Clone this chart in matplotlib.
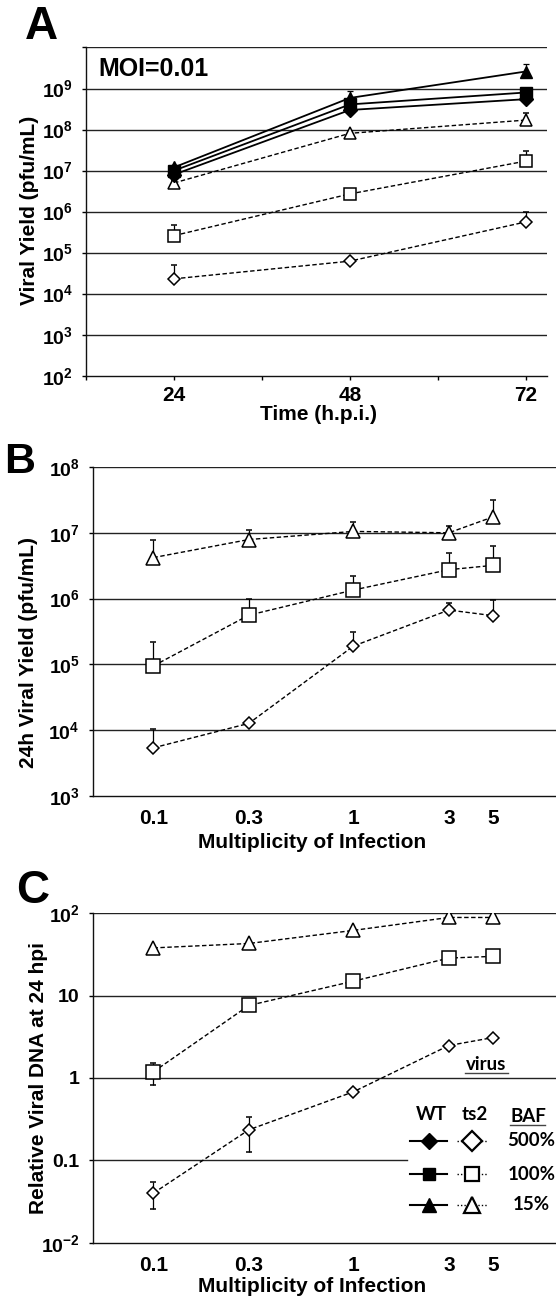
import numpy as np
import matplotlib
matplotlib.use("Agg")
import matplotlib.pyplot as plt
from matplotlib.lines import Line2D

plt.rcParams['font.family'] = ['Liberation Sans', 'DejaVu Sans']
plt.rcParams['font.weight'] = 'bold'
plt.rcParams['mathtext.fontset'] = 'custom'
plt.rcParams['mathtext.rm'] = 'Liberation Sans:bold'
plt.rcParams['mathtext.it'] = 'Liberation Sans:bold'
plt.rcParams['mathtext.bf'] = 'Liberation Sans:bold'
plt.rcParams['mathtext.default'] = 'rm'

# ---------------- Data ----------------
# Panel A: viral yield vs time, MOI=0.01
time_hpi = [24, 48, 72]
A_wt_500 = [8.0e6, 3.0e8, 5.5e8]
A_wt_100 = [1.0e7, 4.1e8, 8.0e8]
A_wt_15 = [1.2e7, 5.9e8, 2.6e9]
A_wt_15_top = [1.4e7, 8.7e8, 4.0e9]
A_ts2_500 = [2.3e4, 6.2e4, 5.6e5]
A_ts2_500_top = [4.9e4, 6.6e4, 1.0e6]
A_ts2_100 = [2.6e5, 2.7e6, 1.7e7]
A_ts2_100_top = [4.8e5, 3.4e6, 3.0e7]
A_ts2_15 = [5.0e6, 8.1e7, 1.7e8]
A_ts2_15_top = [5.5e6, 9.0e7, 2.5e8]

# Panels B and C: MOI series
moi = [0.1, 0.3, 1, 3, 5]
moi_labels = ['0.1', '0.3', '1', '3', '5']

B_ts2_15 = [4.2e6, 7.9e6, 1.05e7, 1.0e7, 1.75e7]
B_ts2_15_top = [7.7e6, 1.1e7, 1.45e7, 1.27e7, 3.2e7]
B_ts2_100 = [9.5e4, 5.6e5, 1.35e6, 2.75e6, 3.2e6]
B_ts2_100_top = [2.2e5, 1.0e6, 2.2e6, 5.0e6, 6.3e6]
B_ts2_500 = [5.4e3, 1.27e4, 1.9e5, 6.7e5, 5.5e5]
B_ts2_500_top = [1.03e4, 1.3e4, 3.1e5, 8.7e5, 9.6e5]

C_ts2_15 = [38, 43, 62, 89, 89]
C_ts2_100 = [1.19, 7.6, 15, 28.6, 30]
C_ts2_100_lo = [0.82, 7.6, 15, 28.6, 30]
C_ts2_100_hi = [1.5, 7.6, 15, 28.6, 30]
C_ts2_500 = [0.04, 0.235, 0.68, 2.48, 3.1]
C_ts2_500_lo = [0.0254, 0.126, 0.68, 2.48, 3.1]
C_ts2_500_hi = [0.054, 0.34, 0.68, 2.48, 3.1]

W, H = 556, 1303
fig = plt.figure(figsize=(W / 100, H / 100), dpi=100)

YTICK_SIZE = 14
XTICK_SIZE = 15
LABEL_SIZE = 15


def F(x, y):
    return (x / W, 1 - y / H)


def add_ax(left, top, right, bottom):
    return fig.add_axes([left / W, 1 - bottom / H, (right - left) / W, (bottom - top) / H])


def base_style(ax):
    for s in ['top', 'right']:
        ax.spines[s].set_visible(False)
    for s in ['left', 'bottom']:
        ax.spines[s].set_linewidth(1.0)
        ax.spines[s].set_color('#111111')
    ax.set_yscale('log')
    ax.yaxis.set_minor_locator(matplotlib.ticker.NullLocator())
    ax.tick_params(axis='y', which='major', direction='out', length=3, width=1.0,
                   pad=6.5, labelsize=YTICK_SIZE)


def style_ax(ax, decades):
    base_style(ax)
    ax.set_ylim(10.0 ** decades[0], 10.0 ** decades[-1])
    ax.yaxis.set_major_locator(matplotlib.ticker.FixedLocator([10.0 ** d for d in decades]))
    for d in decades[1:]:
        ax.axhline(10.0 ** d, color='#222222', lw=1.0, zorder=1)


def exp_label(d):
    return r'$10^{%d}$' % d


open_kw = dict(mfc='white', mec='black', mew=1.1, color='black')
dash_kw = dict(ls=(0, (3.2, 1.8)), lw=1.0)
err_kw = dict(capsize=2, elinewidth=0.9, capthick=0.9)

# ---------------- Panel A ----------------
axA = add_ax(86.2, 47.5, 547, 375.7)
decA = list(range(2, 11))
style_ax(axA, decA)
axA.set_yticklabels([exp_label(d) if d < 10 else '' for d in decA])
axA.set_xlim(12, 74.9)
axA.set_xticks([12, 24, 36, 48, 60, 72])
axA.set_xticklabels(['', '24', '', '48', '', '72'])
axA.tick_params(axis='x', direction='out', length=3, width=1.0, pad=4.5, labelsize=XTICK_SIZE)

t = np.array(time_hpi, dtype=float)


def up_err(vals, tops):
    v = np.array(vals)
    return [np.zeros_like(v), np.maximum(np.array(tops) - v, 0)]


axA.errorbar(t, A_ts2_500, yerr=up_err(A_ts2_500, A_ts2_500_top), marker='D', ms=6.5,
             zorder=3, **err_kw, **open_kw, **dash_kw)
axA.errorbar(t, A_ts2_100, yerr=up_err(A_ts2_100, A_ts2_100_top), marker='s', ms=8,
             zorder=3, **err_kw, **open_kw, **dash_kw)
axA.errorbar(t, A_ts2_15, yerr=up_err(A_ts2_15, A_ts2_15_top), marker='^', ms=8.5,
             zorder=3, **err_kw, **open_kw, **dash_kw)
axA.errorbar(t, A_wt_15, yerr=up_err(A_wt_15, A_wt_15_top), marker='^', ms=8.5, color='black',
             mfc='black', lw=1.3, zorder=4, **err_kw)
axA.plot(t, A_wt_100, marker='s', ms=8, color='black', lw=1.3, zorder=4)
axA.plot(t, A_wt_500, marker='D', ms=7, color='black', lw=1.3, zorder=4)

fig.text(*F(41.5, 27), 'A', fontsize=33, fontweight='bold', ha='center', va='center')
fig.text(*F(153.5, 69), 'MOI=0.01', fontsize=18, fontweight='bold', ha='center', va='center')
fig.text(*F(30, 210), 'Viral Yield (pfu/mL)', fontsize=LABEL_SIZE, fontweight='bold',
         rotation=90, ha='center', va='center')
fig.text(*F(318, 415), 'Time (h.p.i.)', fontsize=LABEL_SIZE, fontweight='bold',
         ha='center', va='center')

# ---------------- Panel B ----------------
axB = add_ax(92.9, 467, 556, 796)
decB = list(range(3, 9))
style_ax(axB, decB)
axB.set_yticklabels([exp_label(d) for d in decB])
axB.set_xscale('log')
axB.set_xlim(0.0498, 10.3)
axB.set_xticks(moi)
axB.set_xticklabels(moi_labels)
axB.xaxis.set_minor_locator(matplotlib.ticker.NullLocator())
axB.tick_params(axis='x', length=0, pad=9.5, labelsize=XTICK_SIZE)

axB.errorbar(moi, B_ts2_500, yerr=up_err(B_ts2_500, B_ts2_500_top), marker='D', ms=6.5,
             zorder=3, **err_kw, **open_kw, **dash_kw)
axB.errorbar(moi, B_ts2_100, yerr=up_err(B_ts2_100, B_ts2_100_top), marker='s', ms=10,
             zorder=3, **err_kw, **open_kw, **dash_kw)
axB.errorbar(moi, B_ts2_15, yerr=up_err(B_ts2_15, B_ts2_15_top), marker='^', ms=10,
             zorder=3, **err_kw, **open_kw, **dash_kw)

fig.text(*F(20, 462), 'B', fontsize=31, fontweight='bold', ha='center', va='center')
fig.text(*F(28.4, 652), '24h Viral Yield (pfu/mL)', fontsize=LABEL_SIZE, fontweight='bold',
         rotation=90, ha='center', va='center')
fig.text(*F(312, 843), 'Multiplicity of Infection', fontsize=LABEL_SIZE, fontweight='bold',
         ha='center', va='center')

# ---------------- Panel C ----------------
axC = add_ax(92.9, 913.3, 556, 1242.7)
decC = list(range(-2, 3))
base_style(axC)
axC.set_ylim(1e-2, 1e2)
axC.yaxis.set_major_locator(matplotlib.ticker.FixedLocator([10.0 ** d for d in decC]))
axC.set_yticklabels([r'$10^{-2}$', '0.1', '1', '10', r'$10^{2}$'])
axC.set_xscale('log')
axC.set_xlim(0.0498, 10.3)
axC.set_xticks(moi)
axC.set_xticklabels(moi_labels)
axC.xaxis.set_minor_locator(matplotlib.ticker.NullLocator())
axC.tick_params(axis='x', length=0, pad=9.5, labelsize=XTICK_SIZE)
# gridlines (0.1 line stops before legend)
axC.axhline(1e2, color='#222222', lw=1.0, zorder=1)
axC.axhline(10, color='#222222', lw=1.0, zorder=1)
axC.axhline(1, color='#222222', lw=1.0, zorder=1)
axC.axhline(0.1, xmin=0, xmax=(407 - 92.9) / (556 - 92.9), color='#222222', lw=1.0, zorder=1)


def both_err(vals, lo, hi):
    v = np.array(vals)
    return [np.maximum(v - np.array(lo), 0), np.maximum(np.array(hi) - v, 0)]


axC.errorbar(moi, C_ts2_500, yerr=both_err(C_ts2_500, C_ts2_500_lo, C_ts2_500_hi), marker='D',
             ms=6.5, zorder=3, **err_kw, **open_kw, **dash_kw)
axC.errorbar(moi, C_ts2_100, yerr=both_err(C_ts2_100, C_ts2_100_lo, C_ts2_100_hi), marker='s',
             ms=10, zorder=3, **err_kw, **open_kw, **dash_kw)
axC.plot(moi, C_ts2_15, marker='^', ms=10, zorder=3, **open_kw, **dash_kw)

fig.text(*F(33, 891), 'C', fontsize=33, fontweight='bold', ha='center', va='center')
fig.text(*F(39, 1078), 'Relative Viral DNA at 24 hpi', fontsize=LABEL_SIZE, fontweight='bold',
         rotation=90, ha='center', va='center')
fig.text(*F(312, 1287), 'Multiplicity of Infection', fontsize=LABEL_SIZE, fontweight='bold',
         ha='center', va='center')

# legend (hand-built, figure pixel coords)
lfont = dict(family=['Lato', 'DejaVu Sans'], fontweight='bold', fontsize=13.5)
fig.text(*F(486.5, 1064), 'virus', ha='center', va='center', **lfont)
fig.add_artist(Line2D([465 / W, 508 / W], [1 - 1073 / H] * 2, color='#444444', lw=1.0,
                      transform=fig.transFigure))
fig.text(*F(431, 1115), 'WT', ha='center', va='center', **lfont)
fig.text(*F(475, 1115), 'ts2', ha='center', va='center', **lfont)
fig.text(*F(528, 1117), 'BAF', ha='center', va='center', **lfont)
fig.add_artist(Line2D([510 / W, 545 / W], [1 - 1125 / H] * 2, color='#444444', lw=1.0,
                      transform=fig.transFigure))
rows = [(1141, 'D', 8.5, 10, '500%'), (1174, 's', 8.5, 9.5, '100%'), (1205, '^', 9.5, 11, '15%')]
for y, mk, ms_f, ms_o, lab in rows:
    yy = 1 - y / H
    fig.add_artist(Line2D([410 / W, 447 / W], [yy, yy], color='black', lw=1.5,
                          transform=fig.transFigure))
    fig.add_artist(Line2D([429 / W], [yy], marker=mk, ms=ms_f, color='black', ls='none',
                          transform=fig.transFigure))
    fig.add_artist(Line2D([457 / W, 487 / W], [yy, yy], color='black', lw=1.0, ls=(0, (1, 1.5)),
                          transform=fig.transFigure))
    fig.add_artist(Line2D([472 / W], [yy], marker=mk, ms=ms_o, mfc='white', mec='black',
                          mew=1.6, ls='none', transform=fig.transFigure))
    fig.text(*F(531.5, y), lab, ha='center', va='center', **lfont)

fig.savefig('out.png', dpi=100)
